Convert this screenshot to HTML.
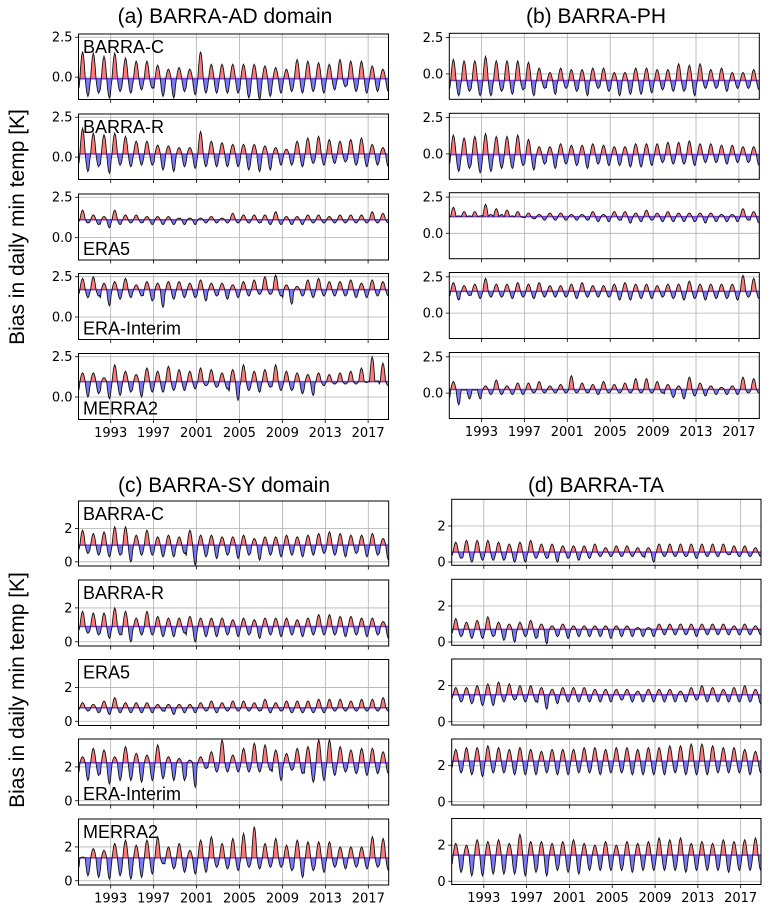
<!DOCTYPE html>
<html><head><meta charset="utf-8">
<style>
html,body{margin:0;padding:0;background:#fff;}
svg{display:block;font-family:"DejaVu Sans","Liberation Sans",sans-serif;}
.ar{font-family:"Liberation Sans",Arial,sans-serif;}
</style></head>
<body>
<svg id="chart" width="770" height="913" viewBox="0 0 770 913" xmlns="http://www.w3.org/2000/svg">
<text class="ar" x="225" y="23" font-size="21" text-anchor="middle">(a) BARRA-AD domain</text>
<text class="ar" x="596" y="23" font-size="21" text-anchor="middle">(b) BARRA-PH</text>
<text class="ar" x="224" y="492" font-size="21" text-anchor="middle">(c) BARRA-SY domain</text>
<text class="ar" x="596" y="492" font-size="21" text-anchor="middle">(d) BARRA-TA</text>
<text class="ar" transform="translate(24,227) rotate(-90)" font-size="21" text-anchor="middle">Bias in daily min temp [K]</text>
<text class="ar" transform="translate(24,690) rotate(-90)" font-size="21" text-anchor="middle">Bias in daily min temp [K]</text>
</svg>
<script>
const yearTicks = [1993,1997,2001,2005,2009,2013,2017];
const startYear = 1990;
const nYears = 29;

const a1Mean = -0.1;
const a1Peak = [1.6,1.5,1.3,1.5,1.2,1.0,1.0,0.75,0.5,0.6,0.5,1.6,0.8,0.8,0.8,0.8,0.8,0.7,0.6,0.5,1.1,1.0,0.9,0.8,1.1,1.0,1.0,0.7,0.5];
const a1Trough = [-1.2,-1.0,-1.3,-0.9,-1.0,-0.8,-0.7,-1.2,-1.3,-0.9,-1.1,-1.0,-1.0,-1.0,-1.0,-1.3,-1.4,-1.2,-1.0,-0.9,-1.0,-0.9,-1.0,-0.8,-0.6,-0.9,-1.0,-0.9,-0.9];
const a2Mean = 0.2;
const a2Peak = [1.8,1.5,1.4,1.5,1.3,1.0,1.0,0.75,0.7,0.6,0.6,1.6,1.0,0.9,0.8,0.8,0.8,0.7,0.6,0.5,1.0,1.2,1.3,1.1,1.0,1.1,1.2,0.8,0.6];
const a2Trough = [-0.9,-0.6,-1.0,-0.5,-0.6,-0.5,-0.5,-0.8,-0.9,-0.6,-0.7,-0.6,-0.6,-0.6,-0.6,-0.8,-0.9,-0.8,-0.5,-0.5,-0.6,-0.4,-0.5,-0.4,-0.3,-0.5,-0.6,-0.5,-0.6];
const a3Mean = 1.1;
const a3Peak = [1.7,1.4,1.3,1.7,1.4,1.4,1.3,1.3,1.3,1.2,1.2,1.2,1.3,1.2,1.5,1.4,1.4,1.4,1.6,1.3,1.3,1.4,1.4,1.3,1.4,1.4,1.4,1.6,1.5];
const a3Trough = [0.9,0.8,0.6,0.8,0.9,0.9,0.8,0.8,0.8,0.8,0.8,0.9,0.9,0.9,0.9,0.9,0.9,0.8,0.8,0.8,0.8,0.9,0.9,0.9,0.9,0.9,0.9,0.9,0.9];
const a4Mean = 1.7;
const a4Peak = [2.4,2.5,2.1,2.2,2.4,2.0,2.2,2.1,2.2,2.2,2.1,2.3,2.1,2.1,2.0,2.2,2.3,2.5,2.6,2.0,1.9,2.3,2.4,2.2,2.2,2.3,2.1,2.3,2.2];
const a4Trough = [1.2,1.3,0.7,1.1,1.2,1.3,1.0,0.6,1.1,1.2,1.2,1.0,1.3,1.1,1.2,1.3,1.4,1.4,1.3,0.8,1.3,1.2,1.3,1.3,1.3,1.2,1.2,1.3,1.3];
const a5Mean = 0.95;
const a5Peak = [1.5,1.5,1.2,2.0,1.6,1.4,1.8,1.6,1.9,1.7,1.6,1.8,1.7,1.5,1.7,2.0,1.6,1.7,2.0,1.6,1.5,1.4,1.5,1.4,1.5,1.6,1.8,2.5,2.1];
const a5Trough = [0.0,0.2,-0.1,0.1,0.3,0.0,0.3,0.3,0.4,0.4,0.5,0.7,0.6,0.5,-0.2,0.4,0.3,0.6,0.4,0.4,0.2,0.1,0.7,0.8,0.8,0.8,0.9,1.0,0.7];

const b1Mean = -0.45;
const b1Peak = [1.0,0.9,0.9,1.2,0.9,0.9,0.9,0.8,0.4,0.1,0.4,0.3,0.3,0.4,0.4,0.1,0.1,0.4,0.4,0.3,0.3,0.7,0.6,0.7,0.3,0.4,0.1,0.1,0.3];
const b1Trough = [-1.5,-1.2,-1.5,-1.5,-1.2,-1.4,-1.1,-1.5,-1.0,-1.4,-1.0,-1.2,-1.5,-1.0,-1.2,-1.5,-1.4,-1.4,-1.3,-1.1,-1.2,-1.2,-1.5,-1.0,-1.0,-1.2,-1.0,-1.0,-1.1];
const b2Mean = -0.05;
const b2Peak = [1.3,1.1,1.2,1.4,1.2,1.2,1.3,1.0,0.5,0.5,0.7,0.6,0.6,0.7,0.6,0.5,0.5,0.7,0.7,0.7,0.8,0.8,0.9,0.7,0.7,0.6,0.6,0.5,0.5];
const b2Trough = [-1.2,-1.0,-1.3,-1.2,-1.0,-1.0,-0.8,-1.1,-0.7,-1.0,-0.7,-0.8,-1.0,-0.7,-0.8,-0.8,-0.9,-0.9,-0.8,-0.6,-0.7,-0.7,-0.8,-0.6,-0.6,-0.7,-0.6,-0.6,-0.8];
const b3Mean = 1.15;
const b3Peak = [1.8,1.5,1.5,2.0,1.7,1.6,1.5,1.4,1.3,1.4,1.4,1.3,1.3,1.5,1.3,1.5,1.5,1.4,1.6,1.4,1.5,1.4,1.4,1.4,1.4,1.3,1.3,1.7,1.5];
const b3Trough = [1.2,1.2,1.2,1.3,1.3,1.2,1.1,1.0,0.9,0.9,0.9,0.9,0.9,0.8,0.8,0.9,0.7,0.8,0.9,0.8,0.8,0.8,0.8,0.7,0.8,0.8,0.8,0.9,0.7];
const b4Mean = 1.5;
const b4Peak = [2.1,1.9,2.0,2.4,2.0,2.0,2.1,2.0,2.1,1.9,1.9,2.0,2.1,1.9,1.9,2.0,2.1,2.0,2.0,1.9,2.0,2.0,2.2,2.0,2.0,2.0,2.0,2.6,2.4];
const b4Trough = [0.9,1.2,1.0,1.1,1.1,1.0,1.1,1.0,1.1,1.1,1.1,1.0,1.1,1.1,1.1,0.9,0.9,1.0,1.0,1.1,1.0,0.9,1.0,0.9,1.0,1.0,0.9,1.1,1.0];
const b5Mean = 0.25;
const b5Peak = [0.8,0.2,0.2,0.5,0.9,0.5,0.7,0.7,0.8,0.5,0.6,1.2,0.7,0.6,0.8,0.6,0.7,1.0,1.0,0.8,0.6,0.5,1.1,0.7,0.5,0.4,0.5,1.1,1.0];
const b5Trough = [-0.8,-0.4,-0.4,-0.1,-0.1,-0.1,-0.1,0.0,0.0,0.0,0.0,0.0,0.0,-0.1,0.0,0.0,0.0,0.0,0.0,0.0,-0.3,-0.4,-0.2,-0.2,-0.1,-0.1,-0.1,0.0,0.0];

const c1Mean = 1.0;
const c1Peak = [1.9,1.7,1.8,2.1,2.1,1.6,1.9,1.5,1.6,1.5,1.9,1.6,1.6,1.5,1.5,1.6,1.4,1.5,1.5,1.6,1.5,1.6,1.7,1.8,1.7,1.6,1.6,1.7,1.4];
const c1Trough = [0.5,0.4,0.3,0.4,0.0,0.4,0.4,0.3,0.3,0.5,-0.2,0.3,0.2,0.4,0.2,0.4,0.1,0.4,0.3,0.4,0.3,0.4,0.5,0.4,0.3,0.5,0.3,0.4,0.1];
const c2Mean = 0.9;
const c2Peak = [1.8,1.7,1.7,2.0,1.8,1.4,1.8,1.5,1.4,1.4,1.5,1.4,1.4,1.4,1.3,1.4,1.3,1.4,1.4,1.4,1.3,1.4,1.6,1.6,1.5,1.5,1.4,1.4,1.2];
const c2Trough = [0.5,0.4,0.2,0.4,0.0,0.4,0.4,0.3,0.3,0.5,0.0,0.3,0.3,0.4,0.3,0.4,0.2,0.4,0.3,0.4,0.3,0.4,0.4,0.4,0.3,0.4,0.3,0.4,0.2];
const c3Mean = 0.8;
const c3Peak = [1.1,1.0,1.2,1.4,1.1,1.1,1.1,1.0,1.0,1.0,1.0,1.1,1.2,1.1,1.2,1.2,1.1,1.3,1.1,1.2,1.2,1.2,1.3,1.3,1.3,1.2,1.3,1.3,1.4];
const c3Trough = [0.6,0.5,0.4,0.5,0.5,0.5,0.5,0.6,0.4,0.5,0.5,0.6,0.5,0.6,0.6,0.6,0.6,0.5,0.6,0.5,0.5,0.5,0.5,0.6,0.6,0.6,0.6,0.6,0.6];
const c4Mean = 2.25;
const c4Peak = [2.6,3.1,3.0,2.6,3.2,2.8,2.7,3.3,2.6,2.5,2.4,2.6,2.9,3.6,2.7,3.1,3.4,3.3,3.0,2.8,3.1,3.2,3.6,3.6,3.2,3.0,3.1,3.1,2.9];
const c4Trough = [1.2,1.5,1.0,1.2,1.2,1.1,1.2,1.3,1.2,1.2,0.8,1.9,1.7,1.7,1.7,1.7,1.7,1.8,1.2,1.8,1.6,1.1,1.2,1.5,1.7,1.6,1.5,1.6,1.6];
const c5Mean = 1.35;
const c5Peak = [1.4,1.9,1.8,2.2,2.4,2.1,2.4,2.6,2.0,2.2,1.8,2.4,2.6,2.2,2.5,2.8,3.2,2.2,2.5,2.1,2.4,2.3,2.3,2.3,2.0,2.0,2.0,2.6,2.5];
const c5Trough = [0.3,0.2,0.1,0.3,0.1,0.2,0.4,1.0,0.7,0.5,0.4,0.5,0.8,0.7,0.6,0.8,0.7,0.8,0.8,0.6,0.2,0.6,0.5,0.8,0.7,0.8,0.7,0.8,0.6];

const d1Mean = 0.55;
const d1Peak = [1.1,1.2,1.2,1.2,1.1,1.0,1.1,1.2,1.0,1.0,0.9,0.9,0.9,1.0,0.8,0.9,0.9,0.8,0.8,1.0,1.0,1.0,1.0,1.0,1.0,1.0,0.9,0.9,0.8];
const d1Trough = [0.2,0.0,0.1,0.1,0.1,0.0,0.0,0.2,0.2,0.0,0.2,0.1,0.2,0.3,0.3,0.3,0.3,0.3,0.0,0.3,0.3,0.3,0.2,0.3,0.3,0.4,0.3,0.3,0.3];
const d2Mean = 0.7;
const d2Peak = [1.3,1.1,1.2,1.4,1.1,1.0,1.1,1.2,1.0,0.9,1.0,0.9,0.9,0.9,0.9,0.9,0.9,0.8,0.8,1.0,1.0,1.0,1.0,1.0,1.0,1.0,0.9,1.0,0.9];
const d2Trough = [0.3,0.2,0.2,0.3,0.1,0.0,0.3,0.2,-0.1,0.3,0.2,0.3,0.3,0.3,0.2,0.3,0.3,0.3,0.3,0.4,0.4,0.4,0.3,0.4,0.4,0.4,0.4,0.4,0.4];
const d3Mean = 1.5;
const d3Peak = [1.9,1.9,2.0,2.1,2.2,2.1,2.0,2.0,1.9,1.8,1.9,1.9,1.9,1.8,1.8,1.8,1.8,1.7,1.8,1.8,1.8,1.7,1.9,2.0,1.9,1.8,1.9,2.0,1.8];
const d3Trough = [1.1,1.0,0.9,0.9,1.1,1.2,1.1,1.1,0.7,1.0,1.1,1.1,1.1,1.1,1.1,1.2,1.1,1.1,1.1,1.1,1.1,1.1,1.2,1.1,1.1,1.1,1.1,1.1,1.0];
const d4Mean = 2.25;
const d4Peak = [2.9,3.0,3.0,3.1,3.0,2.9,3.0,2.9,2.8,2.9,2.9,2.9,3.0,3.0,2.9,3.0,3.0,2.9,3.0,3.0,3.1,3.1,3.2,3.2,3.1,3.0,3.0,2.9,2.8];
const d4Trough = [1.6,1.5,1.4,1.6,1.6,1.5,1.5,1.5,1.6,1.5,1.5,1.6,1.6,1.5,1.6,1.6,1.5,1.5,1.5,1.5,1.6,1.5,1.5,1.5,1.6,1.6,1.6,1.5,1.6];
const d5Mean = 1.45;
const d5Peak = [2.1,2.0,2.3,2.2,2.3,2.1,2.6,2.2,2.2,2.1,2.2,2.3,2.1,2.0,2.2,2.0,2.2,2.1,2.2,2.4,2.3,2.4,2.1,2.2,2.1,2.3,2.2,2.3,2.4];
const d5Trough = [0.5,0.3,0.3,0.4,0.4,0.4,0.3,0.5,0.3,0.6,0.5,0.4,0.6,0.6,0.6,0.6,0.5,0.6,0.6,0.6,0.6,0.5,0.6,0.6,0.6,0.5,0.6,0.6,0.6];

const NS = "http://www.w3.org/2000/svg";
const svg = document.getElementById('chart');
function mk(tag, attrs, parent){
  const e = document.createElementNS(NS, tag);
  for (const k in attrs) e.setAttribute(k, attrs[k]);
  (parent||svg).appendChild(e);
  return e;
}

const panels = [
 {id:'a1',x0:78.5,x1:388.5,top:34,h:65.5,ymin:-1.4,ymax:2.7,yt:[0,2.5],tl:['0.0','2.5'],mean:a1Mean,pk:a1Peak,tr:a1Trough,label:'BARRA-C',lp:'top',xl:false},
 {id:'a2',x0:78.5,x1:388.5,top:114,h:65.5,ymin:-1.4,ymax:2.7,yt:[0,2.5],tl:['0.0','2.5'],mean:a2Mean,pk:a2Peak,tr:a2Trough,label:'BARRA-R',lp:'top',xl:false},
 {id:'a3',x0:78.5,x1:388.5,top:194,h:66,ymin:-1.4,ymax:2.7,yt:[0,2.5],tl:['0.0','2.5'],mean:a3Mean,pk:a3Peak,tr:a3Trough,label:'ERA5',lp:'bottom',xl:false},
 {id:'a4',x0:78.5,x1:388.5,top:273.5,h:66,ymin:-1.4,ymax:2.7,yt:[0,2.5],tl:['0.0','2.5'],mean:a4Mean,pk:a4Peak,tr:a4Trough,label:'ERA-Interim',lp:'bottom',xl:false},
 {id:'a5',x0:78.5,x1:388.5,top:353.5,h:66,ymin:-1.4,ymax:2.7,yt:[0,2.5],tl:['0.0','2.5'],mean:a5Mean,pk:a5Peak,tr:a5Trough,label:'MERRA2',lp:'bottom',xl:true},
 {id:'b1',x0:449.3,x1:759.3,top:33.3,h:66,ymin:-1.75,ymax:2.8,yt:[0,2.5],tl:['0.0','2.5'],mean:b1Mean,pk:b1Peak,tr:b1Trough,label:'',xl:false},
 {id:'b2',x0:449.3,x1:759.3,top:113.3,h:66,ymin:-1.75,ymax:2.8,yt:[0,2.5],tl:['0.0','2.5'],mean:b2Mean,pk:b2Peak,tr:b2Trough,label:'',xl:false},
 {id:'b3',x0:449.3,x1:759.3,top:192.7,h:66,ymin:-1.75,ymax:2.8,yt:[0,2.5],tl:['0.0','2.5'],mean:b3Mean,pk:b3Peak,tr:b3Trough,label:'',xl:false},
 {id:'b4',x0:449.3,x1:759.3,top:272.5,h:66,ymin:-1.75,ymax:2.8,yt:[0,2.5],tl:['0.0','2.5'],mean:b4Mean,pk:b4Peak,tr:b4Trough,label:'',xl:false},
 {id:'b5',x0:449.3,x1:759.3,top:352.5,h:66,ymin:-1.75,ymax:2.8,yt:[0,2.5],tl:['0.0','2.5'],mean:b5Mean,pk:b5Peak,tr:b5Trough,label:'',xl:true},
 {id:'c1',x0:78.5,x1:388.7,top:501,h:65,ymin:-0.25,ymax:3.65,yt:[0,2],tl:['0','2'],mean:c1Mean,pk:c1Peak,tr:c1Trough,label:'BARRA-C',lp:'top',xl:false},
 {id:'c2',x0:78.5,x1:388.7,top:580,h:66,ymin:-0.25,ymax:3.65,yt:[0,2],tl:['0','2'],mean:c2Mean,pk:c2Peak,tr:c2Trough,label:'BARRA-R',lp:'top',xl:false},
 {id:'c3',x0:78.5,x1:388.7,top:659.5,h:66,ymin:-0.25,ymax:3.65,yt:[0,2],tl:['0','2'],mean:c3Mean,pk:c3Peak,tr:c3Trough,label:'ERA5',lp:'top',xl:false},
 {id:'c4',x0:78.5,x1:388.7,top:739,h:66,ymin:-0.25,ymax:3.65,yt:[0,2],tl:['0','2'],mean:c4Mean,pk:c4Peak,tr:c4Trough,label:'ERA-Interim',lp:'bottom',xl:false},
 {id:'c5',x0:78.5,x1:388.7,top:819,h:66,ymin:-0.25,ymax:3.65,yt:[0,2],tl:['0','2'],mean:c5Mean,pk:c5Peak,tr:c5Trough,label:'MERRA2',lp:'top',xl:true},
 {id:'d1',x0:451.7,x1:761,top:499.3,h:66,ymin:-0.18,ymax:3.48,yt:[0,2],tl:['0','2'],mean:d1Mean,pk:d1Peak,tr:d1Trough,label:'',xl:false},
 {id:'d2',x0:451.7,x1:761,top:579.3,h:66,ymin:-0.18,ymax:3.48,yt:[0,2],tl:['0','2'],mean:d2Mean,pk:d2Peak,tr:d2Trough,label:'',xl:false},
 {id:'d3',x0:451.7,x1:761,top:659,h:66,ymin:-0.18,ymax:3.48,yt:[0,2],tl:['0','2'],mean:d3Mean,pk:d3Peak,tr:d3Trough,label:'',xl:false},
 {id:'d4',x0:451.7,x1:761,top:739,h:66,ymin:-0.18,ymax:3.48,yt:[0,2],tl:['0','2'],mean:d4Mean,pk:d4Peak,tr:d4Trough,label:'',xl:false},
 {id:'d5',x0:451.7,x1:761,top:818.5,h:66,ymin:-0.18,ymax:3.48,yt:[0,2],tl:['0','2'],mean:d5Mean,pk:d5Peak,tr:d5Trough,label:'',xl:true}
];

const defs = mk('defs', {});
const xMin = 1990.0, xMax = 2018.9;

panels.forEach(p => {
  const g = mk('g', {});
  
  
  const xs = t => p.x0 + (t - xMin) / (xMax - xMin) * (p.x1 - p.x0);
  const ys = v => p.top + (p.ymax - v) / (p.ymax - p.ymin) * p.h;
  const bot = p.top + p.h;

  yearTicks.forEach(yr => {
    const gl = mk('line', {x1:xs(yr),x2:xs(yr),y1:p.top,y2:bot,stroke:'#b0b0b0','stroke-width':0.8}, g);
    
    
    const tk = mk('line', {x1:xs(yr),x2:xs(yr),y1:bot,y2:bot+3.5,stroke:'#000','stroke-width':0.8}, g);
    
    
    if (p.xl) {
      const tx = mk('text', {x:xs(yr),y:bot+17.5,'font-size':13,'text-anchor':'middle',fill:'#000'}, g);
      tx.textContent = String(yr);
      
      
    }
  });
  p.yt.forEach((v, i) => {
    const gl = mk('line', {x1:p.x0,x2:p.x1,y1:ys(v),y2:ys(v),stroke:'#b0b0b0','stroke-width':0.8}, g);
    
    
    const tk = mk('line', {x1:p.x0-3.5,x2:p.x0,y1:ys(v),y2:ys(v),stroke:'#000','stroke-width':0.8}, g);
    
    
    const tx = mk('text', {x:p.x0-6,y:ys(v)+4.5,'font-size':13,'text-anchor':'end',fill:'#000'}, g);
    tx.textContent = p.tl[i];
    
    
  });

  const pts = [];
  for (let i = 0; i < nYears; i++) {
    for (let j = 0; j < 12; j++) {
      const t = startYear + i + (j + 0.5) / 12;
      if (t > xMax) continue;
      const c = Math.cos(2 * Math.PI * ((j + 0.5) / 12 - 0.38));
      const v = c >= 0 ? p.mean + c * (p.pk[i] - p.mean) : p.mean + c * (p.mean - p.tr[i]);
      pts.push([xs(t), ys(v)]);
    }
  }
  const my = ys(p.mean);
  const lineStr = pts.map(q => q[0].toFixed(2) + ',' + q[1].toFixed(2)).join(' ');
  const areaStr = pts[0][0].toFixed(2) + ',' + my.toFixed(2) + ' ' + lineStr + ' ' + pts[pts.length-1][0].toFixed(2) + ',' + my.toFixed(2);

  const cpA = mk('clipPath', {id:'above-' + p.id}, defs);
  mk('rect', {x:p.x0,y:p.top,width:p.x1-p.x0,height:Math.max(0,my-p.top)}, cpA);
  const cpB = mk('clipPath', {id:'below-' + p.id}, defs);
  mk('rect', {x:p.x0,y:my,width:p.x1-p.x0,height:Math.max(0,bot-my)}, cpB);

  const fa = mk('polygon', {points:areaStr,fill:'#ff6a6a','fill-opacity':0.9,stroke:'#ffb0b0','stroke-width':1,'clip-path':'url(#above-' + p.id + ')'}, g);
  
  
  const fb = mk('polygon', {points:areaStr,fill:'#6a6aff','fill-opacity':0.9,stroke:'#b0b0ff','stroke-width':1,'clip-path':'url(#below-' + p.id + ')'}, g);
  
  
  const ml = mk('line', {x1:p.x0,x2:p.x1,y1:my,y2:my,stroke:'#7a3ad0','stroke-width':1.5}, g);
  
  
  const ln = mk('polyline', {points:lineStr,fill:'none',stroke:'#111','stroke-width':0.9}, g);
  
  

  const fr = mk('rect', {x:p.x0,y:p.top,width:p.x1-p.x0,height:p.h,fill:'none',stroke:'#000','stroke-width':1}, g);
  
  

  if (p.label) {
    const ly = p.lp === 'top' ? p.top + 19 : bot - 5;
    const lb = mk('text', {x:p.x0 + 4.5,y:ly,'font-size':18,fill:'#000','class':'ar'}, g);
    lb.textContent = p.label;
    
    
  }
});
</script>
</body></html>
